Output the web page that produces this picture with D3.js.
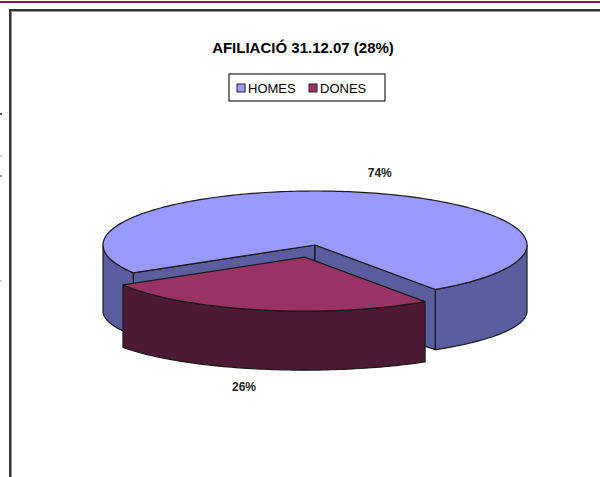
<!DOCTYPE html>
<html>
<head>
<meta charset="utf-8">
<script src="https://cdn.jsdelivr.net/npm/d3@7"></script>
<style>
  html, body { margin: 0; padding: 0; background: #fff; }
  svg { display: block; }
</style>
</head>
<body>
<div id="grafico"></div>
<script>
// data
const categories = ["HOMES", "DONES"];
const values     = [74, 26];
const labels     = ["74%", "26%"];
const title      = "AFILIACIÓ 31.12.07 (28%)";

const width  = 600;
const height = 477;

// pie geometry (3D look, like the old excel chart)
const cx = 315, cy = 245;
const rx = 212, ry = 54;        // top ellipse
const depth = 66, ryb = 47;     // bottom ellipse is flatter (perspective)
const explodeKey = "DONES";
const explode = 0.23;
const startDeg = 239;

const topColor  = d3.scaleOrdinal().domain(categories).range(["#9999ff", "#993366"]);
const sideColor = d3.scaleOrdinal().domain(categories).range(["#5a5e9e", "#4d1933"]);

const svg = d3.select("#grafico")
              .append("svg")
              .attr("width", width)
              .attr("height", height);

// page decoration: purple rule + framed box
svg.append("rect").attr("x", 0).attr("y", 1).attr("width", width).attr("height", 2).attr("fill", "#990066");
svg.append("rect").attr("x", 9).attr("y", 9).attr("width", width - 9).attr("height", 2).attr("fill", "#333");
svg.append("rect").attr("x", 11).attr("y", 11).attr("width", width - 11).attr("height", 1).attr("fill", "#999");
svg.append("rect").attr("x", 9).attr("y", 9).attr("width", 2).attr("height", height - 9).attr("fill", "#333");
svg.append("rect").attr("x", 11).attr("y", 11).attr("width", 1).attr("height", height - 11).attr("fill", "#999");

// stray marks at the page's left edge
[[113, "#555"], [155, "#ccc"], [175, "#999"], [280, "#ccc"]].forEach(([y, c]) => {
    svg.append("rect").attr("x", 0).attr("y", y).attr("width", 2).attr("height", 2).attr("fill", c);
});

// title
svg.append("text")
   .attr("x", 303)
   .attr("y", 53)
   .attr("font-family", "Liberation Sans, Arial, sans-serif")
   .attr("font-size", "15px")
   .attr("font-weight", "bold")
   .style("text-anchor", "middle")
   .text(title);

// legend
const legend = svg.append("g").attr("transform", "translate(229, 74)");
legend.append("rect")
      .attr("width", 156).attr("height", 27)
      .attr("fill", "#fff").attr("stroke", "#222").attr("stroke-width", 1.2);
const legX = [8, 80];
categories.forEach((c, i) => {
    legend.append("rect")
          .attr("x", legX[i]).attr("y", 10)
          .attr("width", 8).attr("height", 8)
          .attr("fill", topColor(c)).attr("stroke", "#222");
    legend.append("text")
          .attr("x", legX[i] + 11).attr("y", 19)
          .attr("font-family", "Liberation Sans, Arial, sans-serif")
          .attr("font-size", "13px")
          .text(c);
});

// pie
const pie = d3.pie()
              .sort(null)
              .startAngle(startDeg * Math.PI / 180)
              .endAngle(startDeg * Math.PI / 180 + 2 * Math.PI);

const arcs = pie(values).map((a, i) => {
    const t0 = a.startAngle - Math.PI / 2;
    const t1 = a.endAngle - Math.PI / 2;
    const mid = (t0 + t1) / 2;
    const k = categories[i] === explodeKey ? explode : 0;
    return {
        key: categories[i], label: labels[i], t0, t1, mid,
        x: cx + rx * k * Math.cos(mid),
        y: cy + ry * k * Math.sin(mid)
    };
});

const topPt = (a, t) => [a.x + rx * Math.cos(t), a.y + ry * Math.sin(t)];
const botPt = (a, t) => [a.x + rx * Math.cos(t), a.y + depth + ryb * Math.sin(t)];

function sample(a, t0, t1, fn) {
    const n = Math.max(2, Math.ceil(Math.abs(t1 - t0) / 0.02));
    return d3.range(n + 1).map(j => fn(a, t0 + (t1 - t0) * j / n));
}

const line = d3.line();
const g = svg.append("g")
             .attr("stroke", "#1a1a1a")
             .attr("stroke-width", 1.2)
             .attr("stroke-linejoin", "round");

// back slices first
arcs.slice().sort((p, q) => Math.sin(p.mid) - Math.sin(q.mid)).forEach(a => {
    // cut faces facing the viewer
    [[a.t0, Math.cos(a.t0) < 0], [a.t1, Math.cos(a.t1) > 0]].forEach(([t, vis]) => {
        if (!vis) return;
        g.append("path")
         .attr("fill", sideColor(a.key))
         .attr("d", line([[a.x, a.y], topPt(a, t), botPt(a, t), [a.x, a.y + depth]]) + "Z");
    });
    // outer walls on the front half
    for (let m = -1; m <= 2; m++) {
        const lo = Math.max(a.t0, 2 * Math.PI * m);
        const hi = Math.min(a.t1, 2 * Math.PI * m + Math.PI);
        if (hi <= lo) continue;
        const pts = sample(a, lo, hi, topPt).concat(sample(a, hi, lo, botPt));
        g.append("path")
         .attr("fill", sideColor(a.key))
         .attr("d", line(pts) + "Z");
    }
    // top face
    g.append("path")
     .attr("fill", topColor(a.key))
     .attr("d", line([[a.x, a.y]].concat(sample(a, a.t0, a.t1, topPt))) + "Z");
});

// percentage labels
arcs.forEach(a => {
    const s = Math.sin(a.mid);
    const lx = a.x + rx * 1.4 * Math.cos(a.mid);
    const ly = s > 0 ? a.y + depth + ryb * 1.35 * s : a.y + ry * 1.4 * s;
    svg.append("text")
       .attr("x", lx + 2)
       .attr("y", ly + 6)
       .attr("font-family", "Liberation Sans, Arial, sans-serif")
       .attr("font-size", "12px")
       .attr("font-weight", "bold")
       .attr("fill", "#222")
       .style("text-anchor", "middle")
       .text(a.label);
});
</script>
</body>
</html>
